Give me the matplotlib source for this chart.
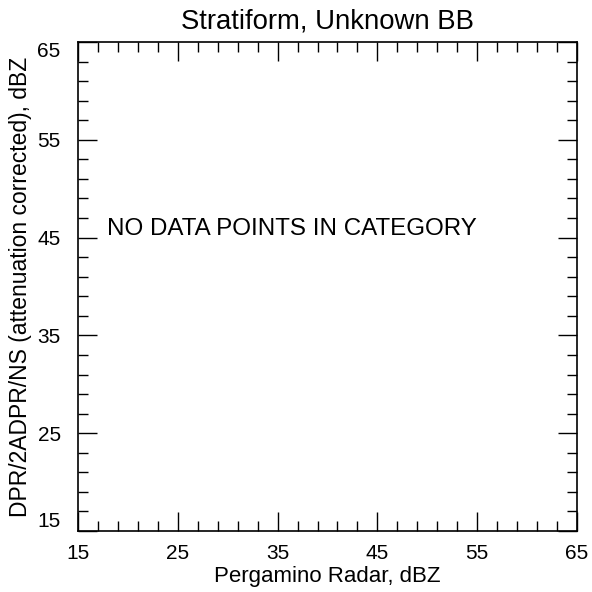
import matplotlib
matplotlib.use("Agg")
import matplotlib.pyplot as plt

plt.rcParams['font.family'] = ['Liberation Sans', 'DejaVu Sans']

title = "Stratiform, Unknown BB"
xlabel = "Pergamino Radar, dBZ"
ylabel = "DPR/2ADPR/NS (attenuation corrected), dBZ"
message = "NO DATA POINTS IN CATEGORY"
x_range = [15, 65]
y_range = [15, 65]
major_ticks = [15, 25, 35, 45, 55, 65]
minor_ticks = [17, 19, 21, 23, 27, 29, 31, 33, 37, 39, 41, 43, 47, 49, 51, 53, 57, 59, 61, 63]
tick_labels = ["15", "25", "35", "45", "55", "65"]

fig = plt.figure(figsize=(5.92, 5.92), dpi=100)
ax = fig.add_axes([78/592, 1-531/592, (577-78)/592, (531-42)/592])
ax.set_xlim(x_range)
ax.set_ylim(y_range)
ax.set_xticks(major_ticks)
ax.set_yticks(major_ticks)
ax.set_xticks(minor_ticks, minor=True)
ax.set_yticks(minor_ticks, minor=True)
ax.set_xticklabels(tick_labels, fontsize=15)
ax.set_yticklabels(tick_labels, fontsize=15)
ax.tick_params(which='both', direction='in', top=True, right=True, width=1.0, color='black')
ax.tick_params(which='major', length=13.7)
ax.tick_params(which='minor', length=7.2)
ax.tick_params(axis='x', which='major', pad=9.5)
ax.tick_params(axis='y', which='major', pad=12.5)
for sp in ax.spines.values():
    sp.set_linewidth(1.2)
ylabs = ax.get_yticklabels()
ylabs[0].set_va('bottom')
ylabs[-1].set_va('top')

ax.set_title(title, fontsize=19.8, pad=10)
ax.set_xlabel(xlabel, fontsize=16, labelpad=2)
ax.set_ylabel(ylabel, fontsize=16.5, labelpad=4)
ax.text(17.9, 45.3, message, fontsize=17.4, ha='left', va='baseline')

fig.savefig("out.png", dpi=100)
